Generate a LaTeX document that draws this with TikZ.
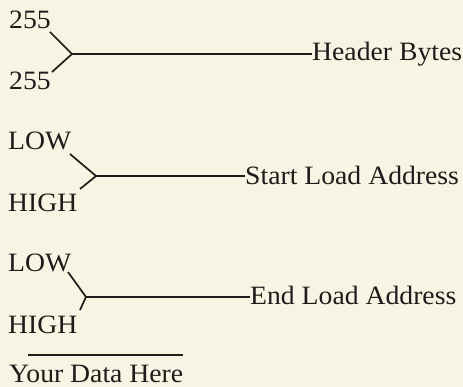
\documentclass[tikz,border=0pt]{standalone}
\usepackage{fontspec}
\setmainfont[FakeStretch=1.045]{Liberation Serif}
\definecolor{paper}{HTML}{F8F4E4}
\definecolor{ink}{HTML}{1E1C1A}
\begin{document}
\begin{tikzpicture}[x=1pt,y=-1pt,
  lbl/.style={anchor=base west,inner sep=0pt,text=ink,font=\fontsize{26.5}{30}\selectfont},
  wire/.style={draw=ink,line width=1.7pt,line join=miter}]
\fill[paper] (0,0) rectangle (463,387);
\useasboundingbox (0,0) rectangle (463,387);

% header bytes
\node[lbl] (h1) at (9,29) {255};
\node[lbl] (h2) at (9,90) {255};
\node[lbl] (hb) at (312,61) {Header Bytes};
\coordinate (ha) at (50,32);
\coordinate (hv) at (72,54);
\coordinate (hc) at (52,72);
\draw[wire] (ha) -- (hv) -- (hc);
\draw[wire] (hv) -- (hb.west |- hv);

% start load address
\node[lbl] (sl) at (8,150) {LOW};
\node[lbl] (sh) at (8,212) {HIGH};
\node[lbl] (sa) at (245,185) {Start Load Address};
\coordinate (sa1) at (70,154);
\coordinate (sv) at (96,176);
\coordinate (sc) at (80,189);
\draw[wire] (sa1) -- (sv) -- (sc);
\draw[wire] (sv) -- (sa.west |- sv);

% end load address
\node[lbl] (el) at (8,272) {LOW};
\node[lbl] (eh) at (8,333) {HIGH};
\node[lbl] (ea) at (250,305) {End Load Address};
\coordinate (ea1) at (68,272);
\coordinate (ev) at (86,297);
\coordinate (ec) at (80,310);
\draw[wire] (ea1) -- (ev) -- (ec);
\draw[wire] (ev) -- (ea.west |- ev);

% data area
\node[lbl] (yd) at (9,382) {Your Data Here};
\coordinate (u1) at (28,355);
\coordinate (u2) at (183,355);
\draw[wire,line width=1.2pt] (u1) -- (u2);
\end{tikzpicture}
\end{document}
